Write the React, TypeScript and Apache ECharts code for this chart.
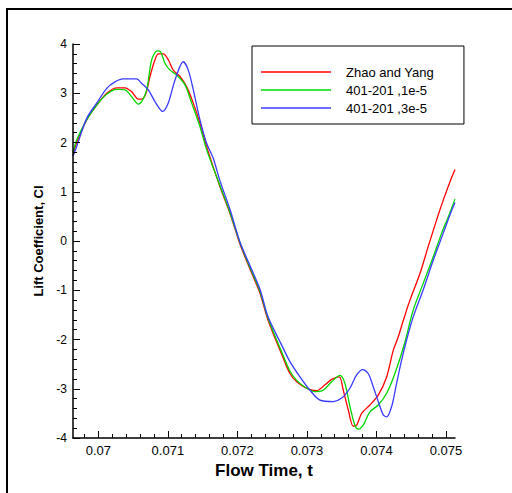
import React, { useEffect, useRef } from "react";
import * as echarts from "echarts";

const seriesNames = ["Zhao and Yang", "401-201 ,1e-5", "401-201 ,3e-5"];

const redT = [0.069636, 0.069689, 0.069833, 0.069977, 0.070121, 0.070265, 0.070384, 0.07048, 0.070575, 0.070624, 0.070686, 0.070743, 0.070815, 0.070863, 0.070935, 0.071006, 0.071078, 0.071175, 0.071271, 0.071366, 0.071462, 0.071559, 0.07175, 0.071894, 0.072037, 0.072181, 0.072325, 0.072444, 0.07266, 0.072756, 0.072853, 0.072996, 0.07314, 0.07326, 0.073356, 0.073465, 0.073523, 0.073595, 0.073666, 0.073715, 0.073787, 0.073906, 0.074026, 0.074147, 0.074242, 0.074313, 0.074385, 0.074482, 0.074626, 0.074741, 0.074866, 0.074961, 0.075057, 0.07513];
const redCl = [1.75, 2.0, 2.46, 2.76, 3.0, 3.11, 3.11, 3.03, 2.88, 2.88, 3.0, 3.34, 3.68, 3.8, 3.8, 3.68, 3.47, 3.34, 3.13, 2.8, 2.39, 1.91, 1.1, 0.56, -0.06, -0.57, -1.06, -1.62, -2.38, -2.69, -2.86, -2.99, -3.04, -2.92, -2.81, -2.76, -3.03, -3.43, -3.76, -3.74, -3.5, -3.33, -3.13, -2.76, -2.22, -1.95, -1.62, -1.2, -0.66, -0.13, 0.43, 0.83, 1.2, 1.45];

const greenT = [0.069636, 0.069689, 0.069833, 0.069977, 0.070121, 0.070265, 0.070384, 0.07048, 0.070575, 0.070624, 0.070696, 0.070768, 0.070848, 0.070897, 0.070959, 0.071031, 0.071127, 0.071247, 0.071343, 0.071462, 0.071559, 0.07175, 0.071894, 0.072037, 0.072181, 0.072325, 0.072444, 0.07266, 0.072756, 0.072853, 0.072996, 0.073116, 0.073235, 0.073356, 0.073475, 0.073547, 0.073619, 0.07369, 0.073738, 0.07381, 0.073906, 0.074026, 0.074147, 0.074266, 0.07441, 0.074529, 0.074673, 0.074817, 0.074938, 0.075033, 0.07513];
const greenCl = [1.8, 2.05, 2.46, 2.76, 2.98, 3.08, 3.07, 2.93, 2.78, 2.83, 3.07, 3.68, 3.86, 3.84, 3.61, 3.47, 3.37, 3.17, 2.8, 2.32, 1.85, 1.12, 0.58, -0.03, -0.54, -1.02, -1.58, -2.33, -2.64, -2.83, -2.99, -3.06, -3.03, -2.86, -2.73, -2.89, -3.36, -3.74, -3.82, -3.74, -3.47, -3.33, -3.09, -2.69, -2.05, -1.4, -0.86, -0.32, 0.16, 0.49, 0.85];

const blueT = [0.069636, 0.069689, 0.069833, 0.069977, 0.070121, 0.07024, 0.070359, 0.070552, 0.070624, 0.070719, 0.070815, 0.070926, 0.071006, 0.071103, 0.071222, 0.071294, 0.071366, 0.071462, 0.071559, 0.071653, 0.07175, 0.071894, 0.072037, 0.072181, 0.072325, 0.072444, 0.07266, 0.072756, 0.0729, 0.073044, 0.073188, 0.073379, 0.0735, 0.073619, 0.073715, 0.073802, 0.073882, 0.073954, 0.074026, 0.074098, 0.074147, 0.074219, 0.07429, 0.074362, 0.074434, 0.074529, 0.074673, 0.074817, 0.074961, 0.075057, 0.07513];
const blueCl = [1.72, 1.92, 2.49, 2.8, 3.1, 3.23, 3.29, 3.29, 3.2, 3.07, 2.83, 2.63, 2.8, 3.27, 3.64, 3.47, 3.07, 2.46, 1.98, 1.68, 1.22, 0.64, -0.02, -0.5, -0.98, -1.55, -2.18, -2.45, -2.76, -3.03, -3.23, -3.26, -3.19, -2.99, -2.72, -2.61, -2.69, -2.96, -3.26, -3.53, -3.57, -3.36, -2.89, -2.42, -2.01, -1.54, -0.99, -0.39, 0.16, 0.53, 0.78];

const xMajorTicks = [0.07, 0.071, 0.072, 0.073, 0.074, 0.075];
const xMinorTicks = [0.0698, 0.0702, 0.0704, 0.0706, 0.0708, 0.0712, 0.0714, 0.0716, 0.0718, 0.0722, 0.0724, 0.0726, 0.0728, 0.0732, 0.0734, 0.0736, 0.0738, 0.0742, 0.0744, 0.0746, 0.0748];
const xMin = 0.069636;
const xMax = 0.07513;

const colors = ["#ff0000", "#00d800", "#3a3aff"];

const zip = (t: number[], v: number[]) => t.map((x, i) => [x, v[i]]);

export default function App() {
  const ref = useRef<HTMLDivElement>(null);
  useEffect(() => {
    if (!ref.current) return;
    const chart = echarts.init(ref.current, null, { renderer: "svg" });
    const font = "Arial, 'Liberation Sans', Helvetica, sans-serif";
    const datasets = [zip(redT, redCl), zip(greenT, greenCl), zip(blueT, blueCl)];
    chart.setOption({
      animation: false,
      backgroundColor: "#ffffff",
      textStyle: { fontFamily: font },
      grid: { left: 73, right: 57, top: 44, bottom: 55, containLabel: false },
      graphic: [
        { type: "line", shape: { x1: 7, y1: 9, x2: 512, y2: 9 }, style: { stroke: "#000", lineWidth: 2 }, silent: true },
        { type: "line", shape: { x1: 7, y1: 8, x2: 7, y2: 493 }, style: { stroke: "#000", lineWidth: 2 }, silent: true },
      ],
      legend: {
        orient: "vertical",
        left: 252,
        top: 46,
        data: seriesNames,
        icon: "rect",
        itemWidth: 70,
        itemHeight: 1.5,
        itemGap: 4,
        borderColor: "#000",
        borderWidth: 1,
        backgroundColor: "#fff",
        padding: [19, 30, 9, 9],
        textStyle: { fontSize: 13, color: "#000", fontFamily: font, lineHeight: 14, padding: [0, 0, 0, 10] },
      },
      xAxis: [
        {
          type: "value",
          min: xMin,
          max: xMax,
          z: 10,
          name: "Flow Time, t",
          nameLocation: "middle",
          nameGap: 20,
          nameTextStyle: { fontSize: 17, fontWeight: "bold", color: "#000", fontFamily: font },
          axisLine: { show: true, onZero: false, lineStyle: { color: "#000", width: 1.5 } },
          axisTick: { show: true, inside: true, length: 7, customValues: xMajorTicks, lineStyle: { color: "#000", width: 1 } },
          axisLabel: {
            customValues: xMajorTicks,
            margin: 6,
            fontSize: 13,
            color: "#000",
            fontFamily: font,
            formatter: (v: number) => String(parseFloat(v.toFixed(5))),
          },
          splitLine: { show: false },
        },
        {
          type: "value",
          min: xMin,
          max: xMax,
          z: 10,
          position: "bottom",
          offset: 0,
          axisLine: { show: false, onZero: false },
          axisTick: { show: true, inside: true, length: 4, customValues: xMinorTicks, lineStyle: { color: "#000", width: 1 } },
          axisLabel: { show: false },
          splitLine: { show: false },
        },
      ],
      yAxis: {
        type: "value",
        min: -4,
        max: 4,
        interval: 1,
        z: 10,
        name: "Lift Coefficient, Cl",
        nameLocation: "middle",
        nameGap: 28,
        nameTextStyle: { fontSize: 13, fontWeight: "bold", color: "#000", fontFamily: font },
        axisLine: { show: true, onZero: false, lineStyle: { color: "#000", width: 1.5 } },
        axisTick: { show: true, inside: true, length: 7, lineStyle: { color: "#000", width: 1 } },
        minorTick: { show: true, splitNumber: 5, length: 4, lineStyle: { color: "#000", width: 1 } },
        axisLabel: { margin: 6, fontSize: 12, color: "#000", fontFamily: font },
        splitLine: { show: false },
        minorSplitLine: { show: false },
      },
      series: datasets.map((d, i) => ({
        name: seriesNames[i],
        type: "line",
        xAxisIndex: 0,
        data: d,
        showSymbol: false,
        smooth: 0.3,
        color: colors[i],
        lineStyle: { color: colors[i], width: 1.3 },
      })),
    });
    return () => chart.dispose();
  }, []);
  return <div ref={ref} style={{ position: "absolute", left: 0, top: 0, width: 512, height: 493 }} />;
}
